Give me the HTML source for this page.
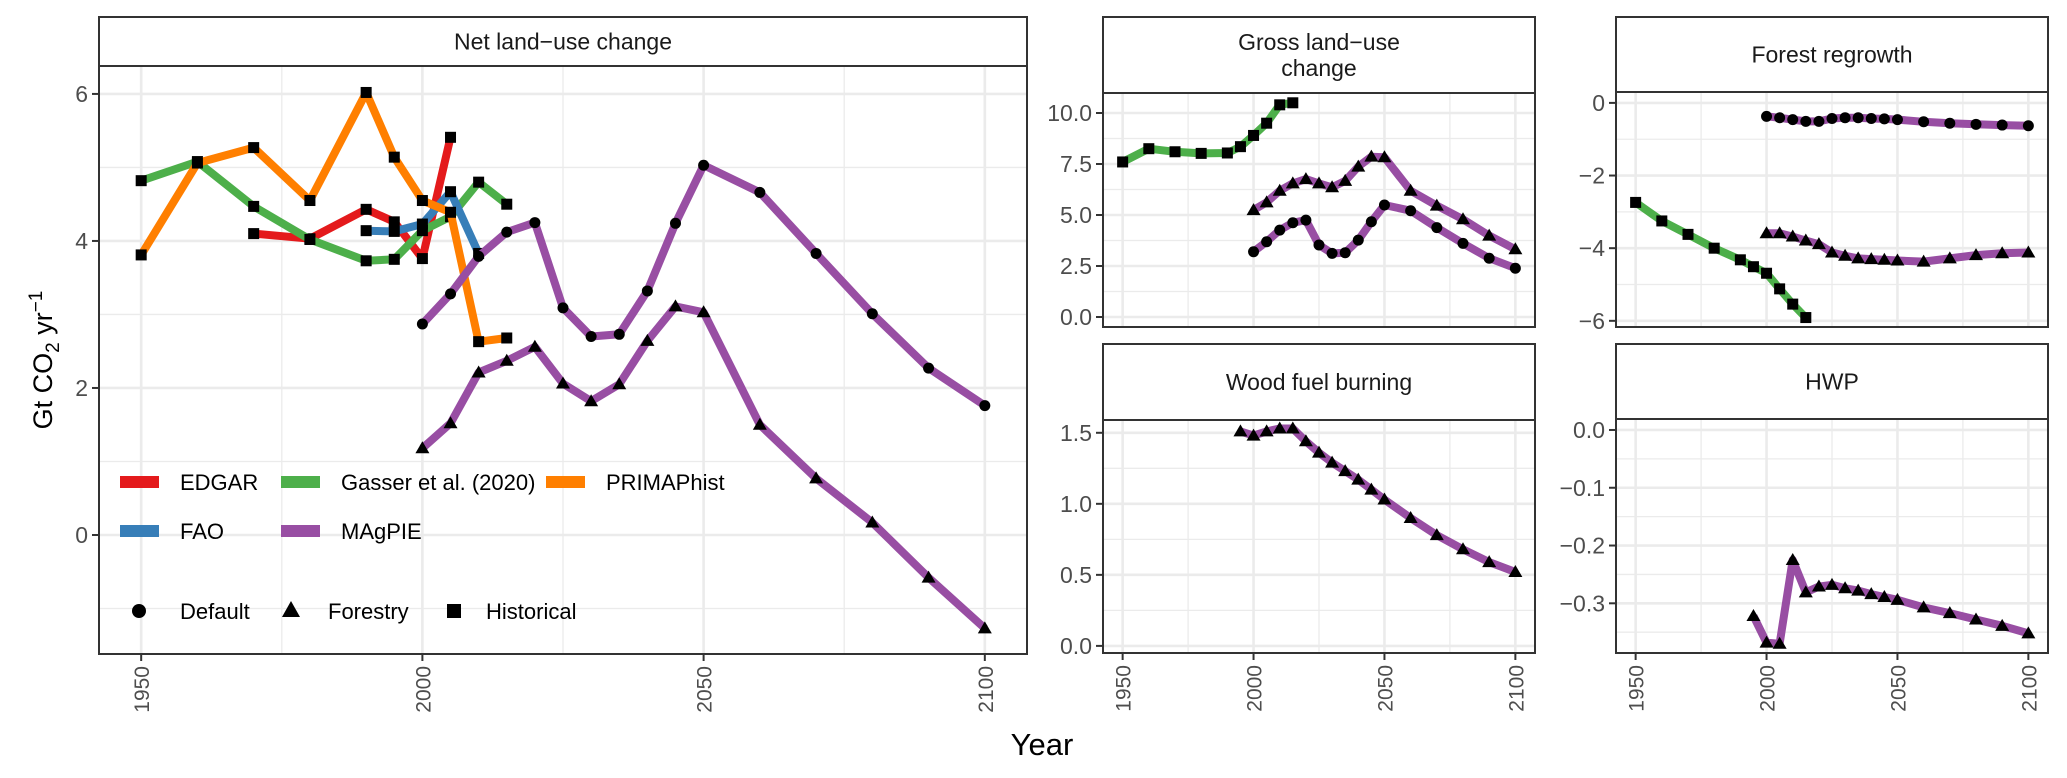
<!DOCTYPE html>
<html><head><meta charset="utf-8"><style>
html,body{margin:0;padding:0;background:#fff;}
svg{display:block;font-family:"Liberation Sans",Arial,sans-serif;}
</style></head><body>
<svg id="chart" width="2067" height="778" viewBox="0 0 2067 778" xmlns="http://www.w3.org/2000/svg">
<text x="52" y="360" transform="rotate(-90 52 360)" text-anchor="middle" font-size="27" fill="#000">Gt CO<tspan font-size="19" dy="7">2</tspan><tspan dy="-7"> yr</tspan><tspan font-size="19" dy="-10">−1</tspan></text>
<text x="1042" y="755" text-anchor="middle" font-size="31" fill="#000">Year</text>
</svg>
<script>
// ---------- data ----------
const xTicks = [1950, 2000, 2050, 2100];
const xMinor = [1975, 2025, 2075];
const yearsHistA = [1950,1960,1970,1980,1990,1995,2000,2005,2010,2015];
const yearsMag = [2000,2005,2010,2015,2020,2025,2030,2035,2040,2045,2050,2060,2070,2080,2090,2100];
const yearsMag95 = [1995,2000,2005,2010,2015,2020,2025,2030,2035,2040,2045,2050,2060,2070,2080,2090,2100];
// Net land-use change
const netPrimapYears = [1950,1960,1970,1980,1990,1995,2000,2005,2010,2015];
const netPrimap = [3.81,5.06,5.27,4.55,6.02,5.14,4.55,4.39,2.63,2.68];
const netGasser = [4.82,5.08,4.47,4.02,3.73,3.75,4.14,4.33,4.80,4.50];
const netEdgarYears = [1970,1980,1990,1995,2000,2005];
const netEdgar = [4.10,4.03,4.43,4.26,3.76,5.41];
const netFaoYears = [1990,1995,2000,2005,2010];
const netFao = [4.14,4.13,4.23,4.67,3.83];
const netMagDefault = [2.87,3.28,3.79,4.12,4.25,3.09,2.70,2.73,3.32,4.24,5.03,4.66,3.83,3.01,2.27,1.76];
const netMagForestry = [1.18,1.52,2.21,2.37,2.56,2.06,1.82,2.05,2.64,3.11,3.03,1.50,0.77,0.17,-0.58,-1.27];
// Gross land-use change
const grossGasser = [7.6,8.25,8.1,8.02,8.04,8.35,8.9,9.5,10.4,10.5];
const grossMagDefault = [3.20,3.69,4.26,4.62,4.75,3.53,3.12,3.15,3.77,4.67,5.49,5.21,4.38,3.61,2.88,2.39];
const grossMagForestry = [5.24,5.62,6.19,6.55,6.76,6.55,6.36,6.67,7.37,7.86,7.83,6.19,5.46,4.79,3.99,3.32];
// Forest regrowth
const forestGasser = [-2.74,-3.25,-3.62,-4.0,-4.32,-4.51,-4.69,-5.12,-5.54,-5.91];
const forestMagDefault = [-0.37,-0.41,-0.46,-0.51,-0.51,-0.43,-0.41,-0.41,-0.43,-0.44,-0.46,-0.52,-0.56,-0.59,-0.61,-0.63];
const forestMagForestry = [-3.59,-3.59,-3.68,-3.79,-3.89,-4.12,-4.21,-4.28,-4.30,-4.32,-4.34,-4.37,-4.28,-4.19,-4.14,-4.12];
// Wood fuel burning
const woodMagForestry = [1.51,1.48,1.51,1.53,1.53,1.44,1.36,1.29,1.23,1.17,1.10,1.03,0.90,0.78,0.68,0.59,0.52];
// HWP
const hwpMagForestry = [-0.322,-0.368,-0.37,-0.225,-0.281,-0.271,-0.268,-0.274,-0.278,-0.284,-0.289,-0.294,-0.307,-0.317,-0.328,-0.339,-0.352];
// tick labels
const netYTicks = [0,2,4,6];
const grossYTicks = [0,2.5,5,7.5,10];
const forestYTicks = [0,-2,-4,-6];
const woodYTicks = [0,0.5,1.0,1.5];
const hwpYTicks = [0,-0.1,-0.2,-0.3];

const COL = {edgar:'#E41A1C', fao:'#377EB8', gasser:'#4DAF4A', magpie:'#984EA3', primap:'#FF7F00'};
const NS = 'http://www.w3.org/2000/svg';
const svg = document.getElementById('chart');
function mk(tag, attrs, parent){ const e=document.createElementNS(NS,tag); for(const k in attrs) e.setAttribute(k,attrs[k]); (parent||svg).appendChild(e); return e; }

function panel(cfg){
  const g = mk('g',{});
  
  
  const X0=1942.5, X1=2107.5;
  const xs = v => cfg.L + (v-X0)/(X1-X0)*(cfg.R-cfg.L);
  const ys = v => cfg.B - (v-cfg.y0)/(cfg.y1-cfg.y0)*(cfg.B-cfg.T);
  // grid
  const minorY=[]; for(let i=0;i<cfg.yt.length-1;i++){const a=Math.min(cfg.yt[i],cfg.yt[i+1]);const b=Math.max(cfg.yt[i],cfg.yt[i+1]);minorY.push((a+b)/2);}
  const sorted=[...cfg.yt].sort((a,b)=>a-b); const st=sorted[1]-sorted[0];
  minorY.push(sorted[0]-st/2, sorted[sorted.length-1]+st/2);
  minorY.forEach(v=>{const y=ys(v); if(y>cfg.T&&y<cfg.B){const l=mk('line',{x1:cfg.L,x2:cfg.R,y1:y,y2:y,stroke:'#ebebeb','stroke-width':1.3},g);
     }});
  xMinor.forEach(v=>{const x=xs(v); const l=mk('line',{x1:x,x2:x,y1:cfg.T,y2:cfg.B,stroke:'#ebebeb','stroke-width':1.3},g);
     });
  cfg.yt.forEach(v=>{const y=ys(v); const l=mk('line',{x1:cfg.L,x2:cfg.R,y1:y,y2:y,stroke:'#ebebeb','stroke-width':2.6},g);
     
    const t=mk('line',{x1:cfg.L-7,x2:cfg.L,y1:y,y2:y,stroke:'#333','stroke-width':2},g);
     
    const tx=mk('text',{x:cfg.L-11,y:y+8,'text-anchor':'end','font-size':23,fill:'#4d4d4d'},g);
     
    tx.textContent = cfg.fmt(v);});
  xTicks.forEach(v=>{const x=xs(v); const l=mk('line',{x1:x,x2:x,y1:cfg.T,y2:cfg.B,stroke:'#ebebeb','stroke-width':2.6},g);
     
    if(cfg.xlab){
      const t=mk('line',{x1:x,x2:x,y1:cfg.B,y2:cfg.B+7,stroke:'#333','stroke-width':2},g);
       
      const tx=mk('text',{x:x+8,y:cfg.B+12,'text-anchor':'end','font-size':21,fill:'#4d4d4d',transform:`rotate(-90 ${x+8} ${cfg.B+12})`},g);
       
      tx.textContent = v;
    }});
  // series
  cfg.series.forEach(s=>{
    const pts = s.x.map((yr,i)=>xs(yr).toFixed(1)+','+ys(s.y[i]).toFixed(1)).join(' ');
    const pl = mk('polyline',{points:pts,fill:'none',stroke:s.col,'stroke-width':s.w||8,'stroke-linejoin':'round','stroke-linecap':'butt'},g);
    
    
    s.x.forEach((yr,i)=>{
      const x=xs(yr), y=ys(s.y[i]); let m;
      if(s.shape==='square') m=mk('rect',{x:x-5.5,y:y-5.5,width:11,height:11,fill:'#000'},g);
      else if(s.shape==='circle') m=mk('circle',{cx:x,cy:y,r:5.5,fill:'#000'},g);
      else m=mk('polygon',{points:`${x},${y-7} ${x-7},${y+5} ${x+7},${y+5}`,fill:'#000'},g);
      
      
    });
  });
  // frame
  const fr=mk('rect',{x:cfg.L,y:cfg.T,width:cfg.R-cfg.L,height:cfg.B-cfg.T,fill:'none',stroke:'#333','stroke-width':2},g);
   
  const sr=mk('rect',{x:cfg.L,y:cfg.ST,width:cfg.R-cfg.L,height:cfg.T-cfg.ST,fill:'#fff',stroke:'#333','stroke-width':2},g);
   
  const lines = cfg.title;
  const cy=(cfg.ST+cfg.T)/2; const lh=26;
  lines.forEach((tt,i)=>{
    const t=mk('text',{x:(cfg.L+cfg.R)/2,y:cy+8+(i-(lines.length-1)/2)*lh,'text-anchor':'middle','font-size':23,fill:'#1a1a1a'},g);
     
    t.textContent=tt;
  });
  return {xs,ys,g};
}
const f0 = v=>String(v).replace('-','−');
const f1 = v=>v.toFixed(1).replace('-','−');

panel({name:'net-land-use-change',L:99,R:1027,ST:17,T:66,B:654,y0:-1.619,y1:6.38,yt:netYTicks,fmt:f0,xlab:true,title:['Net land−use change'],
  series:[
    {name:'edgar-historical',x:netEdgarYears,y:netEdgar,col:COL.edgar,shape:'square'},
    {name:'gasser-historical',x:yearsHistA,y:netGasser,col:COL.gasser,shape:'square'},
    {name:'fao-historical',x:netFaoYears,y:netFao,col:COL.fao,shape:'square'},
    {name:'primap-historical',x:netPrimapYears,y:netPrimap,col:COL.primap,shape:'square'},
    {name:'magpie-default',x:yearsMag,y:netMagDefault,col:COL.magpie,shape:'circle'},
    {name:'magpie-forestry',x:yearsMag,y:netMagForestry,col:COL.magpie,shape:'triangle'}
  ]});
panel({name:'gross-land-use-change',L:1103,R:1535,ST:17,T:93,B:327,y0:-0.49,y1:10.98,yt:grossYTicks,fmt:f1,xlab:false,title:['Gross land−use','change'],
  series:[
    {name:'gasser-historical',x:yearsHistA,y:grossGasser,col:COL.gasser,shape:'square'},
    {name:'magpie-default',x:yearsMag,y:grossMagDefault,col:COL.magpie,shape:'circle'},
    {name:'magpie-forestry',x:yearsMag,y:grossMagForestry,col:COL.magpie,shape:'triangle'}
  ]});
panel({name:'forest-regrowth',L:1616,R:2048,ST:17,T:92,B:327,y0:-6.17,y1:0.30,yt:forestYTicks,fmt:f0,xlab:false,title:['Forest regrowth'],
  series:[
    {name:'gasser-historical',x:yearsHistA,y:forestGasser,col:COL.gasser,shape:'square'},
    {name:'magpie-default',x:yearsMag,y:forestMagDefault,col:COL.magpie,shape:'circle'},
    {name:'magpie-forestry',x:yearsMag,y:forestMagForestry,col:COL.magpie,shape:'triangle'}
  ]});
panel({name:'wood-fuel-burning',L:1103,R:1535,ST:344,T:420,B:653,y0:-0.05,y1:1.59,yt:woodYTicks,fmt:f1,xlab:true,title:['Wood fuel burning'],
  series:[
    {name:'magpie-forestry',x:yearsMag95,y:woodMagForestry,col:COL.magpie,shape:'triangle'}
  ]});
panel({name:'hwp',L:1616,R:2048,ST:344,T:419,B:653,y0:-0.386,y1:0.019,yt:hwpYTicks,fmt:f1,xlab:true,title:['HWP'],
  series:[
    {name:'magpie-forestry',x:yearsMag95,y:hwpMagForestry,col:COL.magpie,shape:'triangle'}
  ]});

// legend
const lg = mk('g',{});


const legItems=[['EDGAR',COL.edgar,120,482],['Gasser et al. (2020)',COL.gasser,281,482],['PRIMAPhist',COL.primap,546,482],['FAO',COL.fao,120,531],['MAgPIE',COL.magpie,281,531]];
legItems.forEach(it=>{
  const k=mk('rect',{x:it[2],y:it[3]-6,width:39,height:12,fill:it[1]},lg);
   
  const t=mk('text',{x:it[2]+60,y:it[3]+8,'font-size':22,fill:'#000'},lg);
   
  t.textContent=it[0];
});
const shp=[['circle','Default',139,180],['triangle','Forestry',291,328],['square','Historical',454,486]];
shp.forEach(s=>{
  const y=611; let m;
  if(s[0]==='circle') m=mk('circle',{cx:s[2],cy:y,r:7,fill:'#000'},lg);
  else if(s[0]==='square') m=mk('rect',{x:s[2]-7,y:y-7,width:14,height:14,fill:'#000'},lg);
  else m=mk('polygon',{points:`${s[2]},${y-10} ${s[2]-9},${y+6} ${s[2]+9},${y+6}`,fill:'#000'},lg);
   
  const t=mk('text',{x:s[3],y:y+8,'font-size':22,fill:'#000'},lg);
   
  t.textContent=s[1];
});
</script>
</body></html>
